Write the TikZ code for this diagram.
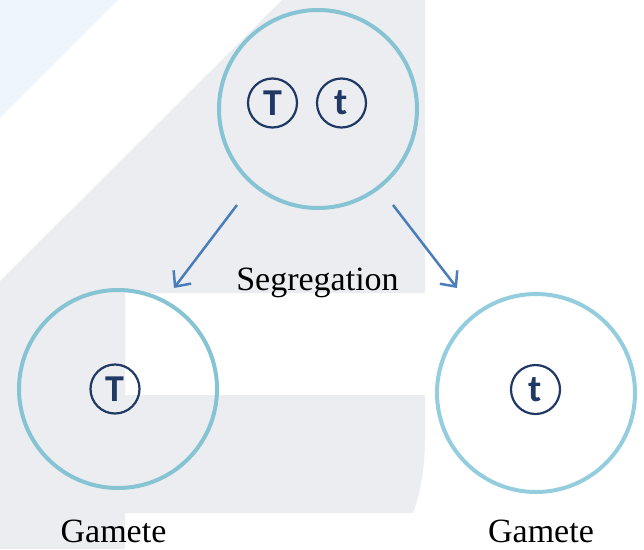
\documentclass[tikz,border=0pt]{standalone}
\usepackage{fontspec}
\setmainfont{Liberation Serif}
\newfontfamily\allelefont{Carlito}
\usetikzlibrary{arrows.meta}
\definecolor{bgblue}{RGB}{238,245,251}
\definecolor{bggray}{RGB}{236,237,241}
\definecolor{ringblue}{RGB}{134,195,211}
\definecolor{ringlight}{RGB}{148,205,222}
\definecolor{arrowblue}{RGB}{74,126,187}
\definecolor{allelenavy}{RGB}{31,56,100}
\begin{document}
\begin{tikzpicture}[x=1pt,y=-1pt,
  cell/.style={circle,draw=ringblue,line width=4pt,minimum size=198pt,inner sep=0pt},
  allele/.style={circle,draw=allelenavy,line width=2.2pt,minimum size=49pt,inner sep=0pt,text=allelenavy,font=\allelefont\bfseries\fontsize{38}{38}\selectfont},
  captext/.style={font=\fontsize{34}{34}\selectfont,text=black,inner sep=0pt,anchor=base},
  segarrow/.style={draw=arrowblue,line width=2.5pt,-{Straight Barb[length=12pt,width=22pt]}}
]
\useasboundingbox (0,0) rectangle (644,549);
\fill[bgblue] (0,0) -- (118,0) -- (0,118) -- cycle;
\fill[bggray] (282,0) -- (425,0) -- (425,293) -- (125,293) -- (125,395) -- (425,395) -- (425,437) .. controls (425,470) and (420,495) .. (413,513) -- (125,513) -- (125,549) -- (0,549) -- (0,281) -- cycle;
\node[cell] (parent) at (318,109) {};
\node[cell] (gameteT) at (118,389) {};
\node[cell,draw=ringlight] (gametet) at (536,393) {};
\node[allele] (pT) at (272.5,103) {T};
\node[allele] (pt) at (341.5,103) {t};
\node[allele] (gT) at (115,389) {T};
\node[allele] (gt) at (535.5,389.5) {t};
\node[captext] (seg) at (317.5,290) {Segregation};
\node[captext] (gam1) at (113.5,542) {Gamete};
\node[captext] (gam2) at (541,542) {Gamete};
\coordinate (a1s) at (237,205);
\coordinate (a1e) at (174,288);
\coordinate (a2s) at (393,205);
\coordinate (a2e) at (457,288);
\draw[segarrow] (a1s) -- (a1e);
\draw[segarrow] (a2s) -- (a2e);
\end{tikzpicture}
\end{document}
